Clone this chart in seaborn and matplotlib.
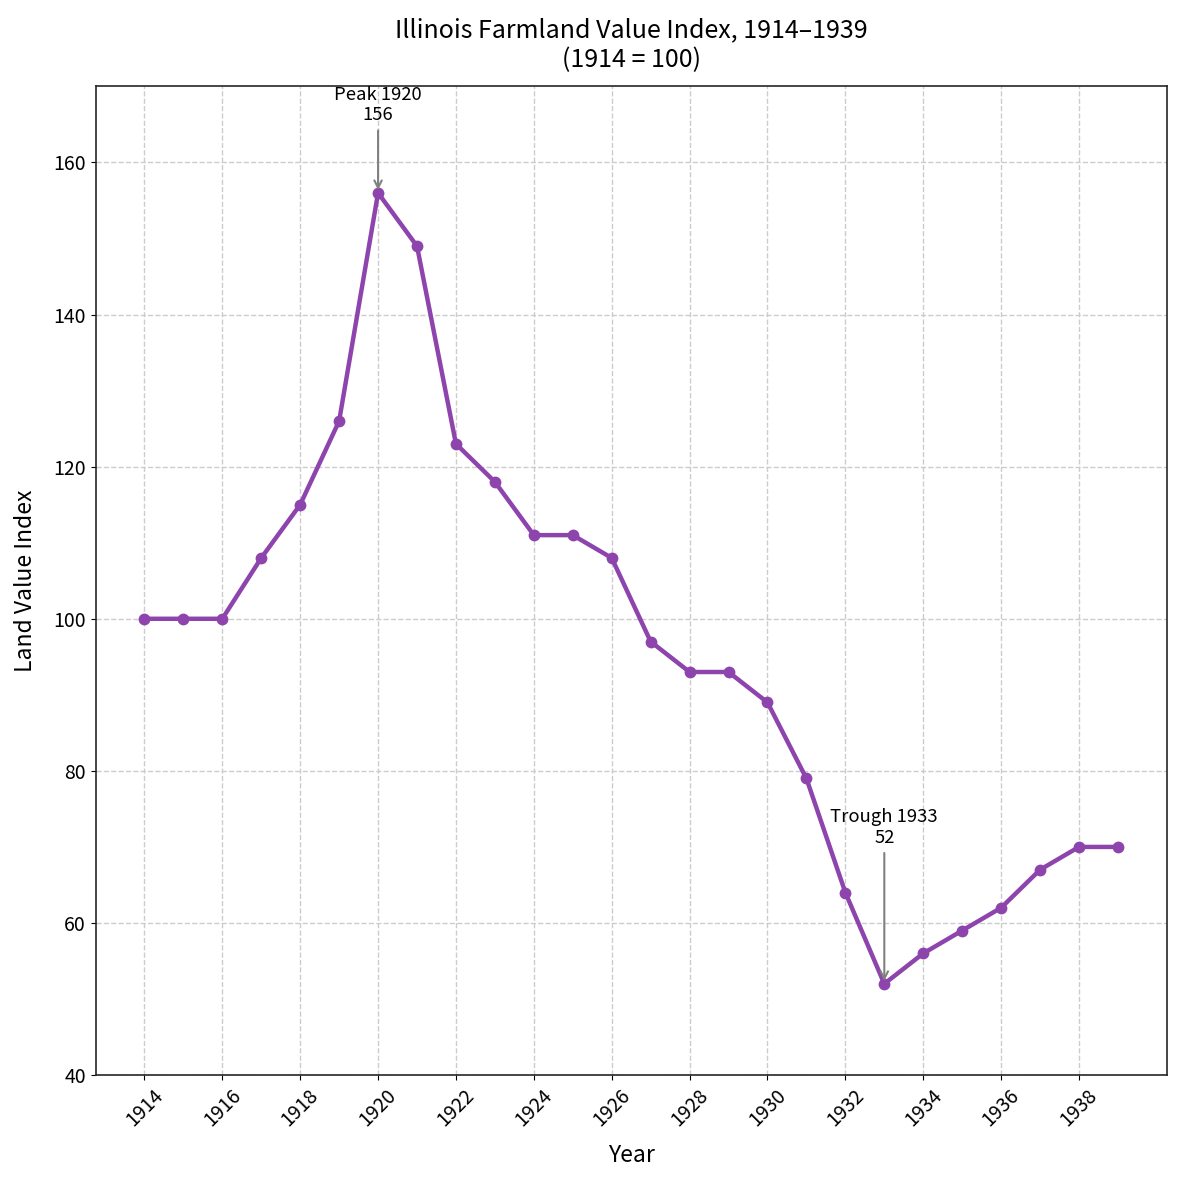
import matplotlib
matplotlib.use('Agg')
import matplotlib.pyplot as plt
import numpy as np
import pandas as pd
import seaborn as sns

sns.set_style('ticks')
plt.rcParams['font.family'] = ['Noto Sans CJK SC', 'DejaVu Sans']
plt.rcParams['text.color'] = 'black'
plt.rcParams['axes.labelcolor'] = 'black'
plt.rcParams['xtick.color'] = 'black'
plt.rcParams['ytick.color'] = 'black'

years = list(range(1914, 1940))
index_values = [100, 100, 100, 108, 115, 126, 156, 149, 123, 118, 111, 111, 108,
                97, 93, 93, 89, 79, 64, 52, 56, 59, 62, 67, 70, 70]
x_ticks = list(range(1914, 1940, 2))
y_ticks = [40, 60, 80, 100, 120, 140, 160]

df = pd.DataFrame({'Year': years, 'Index': index_values})
color = '#8E44AD'

fig, ax = plt.subplots(figsize=(11.82, 11.84), dpi=100)
sns.lineplot(data=df, x='Year', y='Index', ax=ax, color=color, linewidth=3.2,
             marker='o', markersize=8.5, markeredgewidth=0)

ax.grid(True, linestyle='--', color='#cccccc', linewidth=1)
ax.set_ylim(40, 170)
ax.set_xticks(x_ticks)
ax.set_yticks(y_ticks)
ax.tick_params(axis='x', rotation=45, labelsize=14)
ax.tick_params(axis='y', labelsize=14)
ax.set_xlabel('Year', fontsize=16.5, labelpad=10)
ax.set_ylabel('Land Value Index', fontsize=16.5, labelpad=12)
ax.set_title('Illinois Farmland Value Index, 1914\u20131939\n(1914 = 100)', fontsize=18,
             pad=14)

peak_i = int(np.argmax(index_values))
low_i = int(np.argmin(index_values))
ax.annotate(f'Peak {years[peak_i]}\n{index_values[peak_i]}',
            xy=(years[peak_i], index_values[peak_i]),
            xytext=(years[peak_i], index_values[peak_i] + 9),
            ha='center', va='bottom', fontsize=13.3,
            arrowprops=dict(arrowstyle='->', color='gray', lw=1.5))
ax.annotate(f'Trough {years[low_i]}\n{index_values[low_i]}',
            xy=(years[low_i], index_values[low_i]),
            xytext=(years[low_i], index_values[low_i] + 18),
            ha='center', va='bottom', fontsize=13.3,
            arrowprops=dict(arrowstyle='->', color='gray', lw=1.5))

for s in ax.spines.values():
    s.set_linewidth(1.2)

fig.subplots_adjust(left=0.081, right=0.987, top=0.927, bottom=0.092)
fig.savefig('out.png', dpi=100)
